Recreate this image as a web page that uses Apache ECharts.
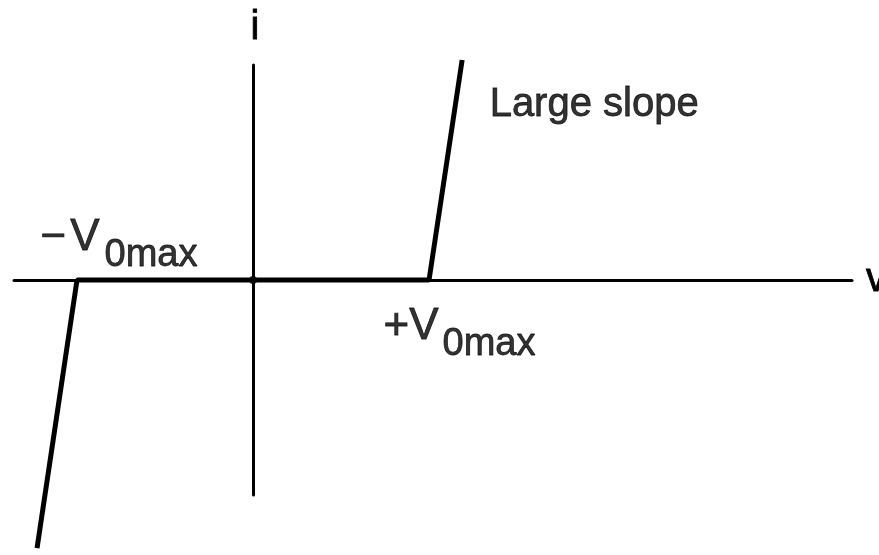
<!DOCTYPE html>
<html>
<head>
<meta charset="utf-8">
<script src="https://cdn.jsdelivr.net/npm/echarts@6/dist/echarts.min.js"></script>
<style>
    html, body { margin: 0; padding: 0; background: #fff; }
    #chart { width: 879px; height: 555px; }
</style>
</head>
<body>
<div id="chart"></div>
<script>
// i-v characteristic, voltage in units of V0max (knees at +-1)
const vValues = [-1.227, -1, 1, 1.188];
const iValues = [-1.523, 0, 0, 1.25];
const xRange = [-1.358, 3.403];
const yRange = [-1.2216, 1.2216];

// text annotations, anchored to curve points
const noteText = ['{m|−}{a|V}{b|0max}', '{m|+}{a|V}{b|0max}', 'Large slope'];
const notePoints = [[-1, 0], [1, 0], [1.188, 1.25]];

const chart = echarts.init(document.getElementById('chart'));

const font = 'Liberation Sans, Arial, sans-serif';
const ink = { color: '#000', textBorderColor: '#000', textBorderWidth: 0.8 };

function subRich(signGap, subGap) {
    return {
        m: Object.assign({ fontFamily: font, fontSize: 44, lineHeight: 44, verticalAlign: 'top', padding: [0, signGap, 0, 0] }, ink),
        a: Object.assign({ fontFamily: font, fontSize: 44, lineHeight: 44, verticalAlign: 'top' }, ink),
        b: Object.assign({ fontFamily: font, fontSize: 38, lineHeight: 44, verticalAlign: 'top', padding: [21, 0, 0, subGap] }, ink)
    };
}
const noteLabels = [
    { position: [-36, -64], align: 'left', verticalAlign: 'top', rich: subRich(4, 5) },
    { position: [-45, 25], align: 'left', verticalAlign: 'top', rich: subRich(0, 4) },
    { position: 'right', align: 'left', offset: [22, 45] }
];

const option = {
    animation: false,
    backgroundColor: '#fff',
    grid: { left: 14, right: 27, top: 65, bottom: 60, outerBoundsMode: 'none', containLabel: false },
    xAxis: {
        type: 'value',
        min: xRange[0],
        max: xRange[1],
        name: 'v',
        nameLocation: 'end',
        nameGap: 14,
        nameTextStyle: Object.assign({ fontFamily: font, fontSize: 40, verticalAlign: 'middle', padding: [22, 0, 0, 0] }, ink),
        axisLine: { onZero: true, lineStyle: { color: '#000', width: 3 } },
        axisTick: { show: false },
        axisLabel: { show: false },
        splitLine: { show: false }
    },
    yAxis: {
        type: 'value',
        min: yRange[0],
        max: yRange[1],
        name: 'i',
        nameLocation: 'end',
        nameGap: 17,
        nameTextStyle: Object.assign({ fontFamily: font, fontSize: 40, align: 'center', padding: [0, 0, 0, 4] }, ink),
        axisLine: { onZero: true, lineStyle: { color: '#000', width: 3 } },
        axisTick: { show: false },
        axisLabel: { show: false },
        splitLine: { show: false }
    },
    series: [{
        type: 'line',
        clip: false,
        symbol: 'none',
        lineStyle: { color: '#000', width: 5 },
        data: vValues.map((v, k) => [v, iValues[k]])
    }, {
        // small dot at the origin
        type: 'scatter',
        symbolSize: 8,
        itemStyle: { color: '#000' },
        data: [[0, 0]]
    }, {
        // labels
        type: 'scatter',
        clip: false,
        symbolSize: 1,
        itemStyle: { color: 'rgba(0,0,0,0)' },
        data: notePoints.map((p, k) => ({
            value: p,
            label: Object.assign({
                show: true,
                formatter: noteText[k],
                fontFamily: font, fontSize: 40
            }, ink, noteLabels[k])
        }))
    }]
};

chart.setOption(option);
</script>
</body>
</html>
